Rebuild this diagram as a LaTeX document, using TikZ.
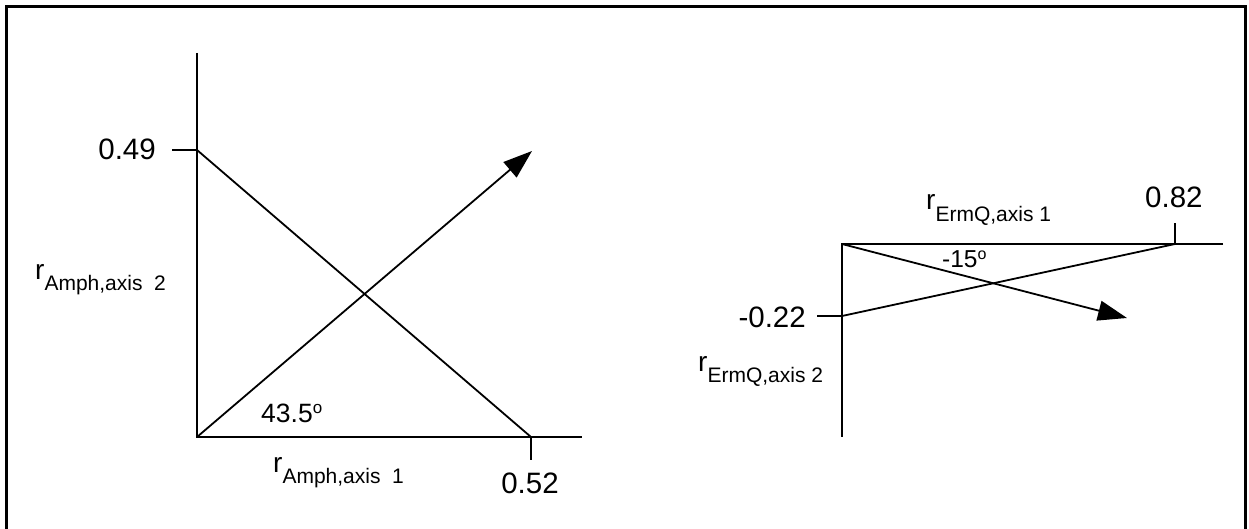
\documentclass[tikz,border=0pt]{standalone}
\usepackage{fontspec}
\setmainfont{Liberation Sans}
\usetikzlibrary{arrows.meta}
\newcommand{\rlab}[1]{{\fontsize{28}{28}\selectfont r}\raisebox{-11.5pt}{\fontsize{21}{21}\selectfont #1}}
\newcommand{\numfont}{\fontsize{29.5}{30}\selectfont}
\tikzset{
  axisline/.style={line width=1.8pt},
  vecline/.style={line width=1.8pt, -{Triangle[length=29pt,width=20pt]}},
  numlab/.style={inner sep=0pt, font=\numfont},
  anglab/.style={inner sep=0pt},
  axlab/.style={inner sep=0pt, anchor=base west},
}
\begin{document}
\begin{tikzpicture}[x=1pt,y=-1pt]
\useasboundingbox (0,0) rectangle (1249,529);
\begin{scope}
\clip (0,0) rectangle (1249,529);
\draw[line width=2.6pt] (6.5,6.5) rectangle (1245.5,560);
\end{scope}
% ---------- left diagram ----------
\coordinate (O1) at (197,437);
\coordinate (Y1top) at (197,53);
\coordinate (X1end) at (582,437);
\coordinate (T49) at (197,150);
\coordinate (T49l) at (172,150);
\coordinate (T52) at (531,437);
\coordinate (T52b) at (531,460);
\coordinate (A1tip) at (532,151);
\draw[axisline] (Y1top) -- (O1) -- (X1end);
\draw[axisline] (T49l) -- (T49);
\draw[axisline] (T52) -- (T52b);
\draw[axisline] (T49) -- (T52);
\draw[vecline] (O1) -- (A1tip);
\node[numlab, anchor=base east] (L49) at (156,160) {0.49};
\node[numlab, anchor=base] (L52) at (530,493) {0.52};
\node[anglab, anchor=base west] (Ang1) at (261,422) {\fontsize{26.5}{27}\selectfont 43.5\raisebox{9pt}{\fontsize{17}{17}\selectfont o}};
\node[axlab] (Lx1) at (273,472) {\rlab{Amph,axis\ \ 1}};
\node[axlab] (Ly1) at (35,279) {\rlab{Amph,axis\ \ 2}};
% ---------- right diagram ----------
\coordinate (O2) at (842,244);
\coordinate (X2end) at (1223,244);
\coordinate (Y2bot) at (842,437);
\coordinate (T82) at (1175,244);
\coordinate (T82t) at (1175,223);
\coordinate (T22) at (842,316);
\coordinate (T22l) at (817,316);
\coordinate (A2tip) at (1127,318);
\draw[axisline] (X2end) -- (O2) -- (Y2bot);
\draw[axisline] (T82) -- (T82t);
\draw[axisline] (T22l) -- (T22);
\draw[axisline] (T22) -- (T82);
\draw[vecline] (O2) -- (A2tip);
\node[numlab, anchor=base west] (L82) at (1145,208) {0.82};
\node[numlab, anchor=base east] (L22) at (806,327) {-0.22};
\node[anglab, anchor=base west] (Ang2) at (942,267) {\fontsize{24.5}{25}\selectfont -15\raisebox{8pt}{\fontsize{16}{16}\selectfont o}};
\node[axlab] (Lx2) at (926,210) {\rlab{ErmQ,axis 1}};
\node[axlab] (Ly2) at (698,371) {\rlab{ErmQ,axis 2}};
\end{tikzpicture}
\end{document}
